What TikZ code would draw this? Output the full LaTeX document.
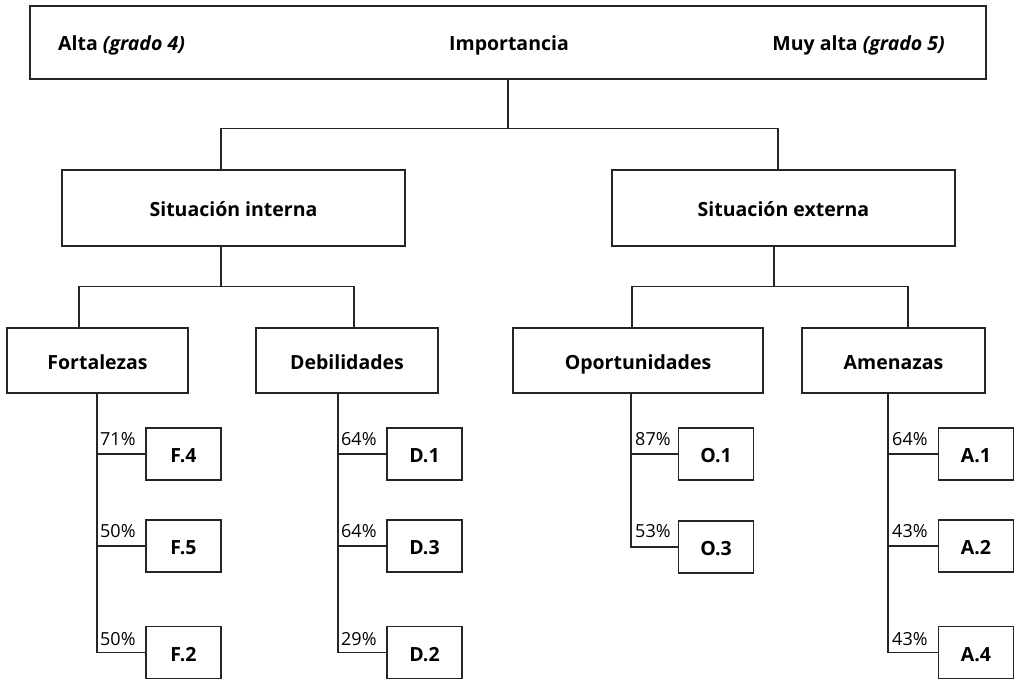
\documentclass[tikz,border=0pt]{standalone}
\usepackage{fontspec}
\setmainfont{Open Sans}
\begin{document}
\begin{tikzpicture}[x=1pt,y=-1pt,
  box/.style={draw=black!85, line width=1.3pt, font=\bfseries\fontsize{19.5}{21}\selectfont, inner sep=0pt, text height=19pt, text depth=2pt},
  leaf/.style={box, minimum width=75pt, minimum height=52pt},
  conn/.style={draw=black!85, line width=1.3pt},
  pct/.style={font=\fontsize{18}{20}\selectfont, anchor=base west, inner sep=0pt},
  toptxt/.style={font=\bfseries\fontsize{19.5}{21}\selectfont, inner sep=0pt}]
\useasboundingbox (0,0) rectangle (1018,680);
% top box
\node[box, minimum width=956pt, minimum height=73pt] (top) at (508,42.5) {};
\node[toptxt, anchor=base west] (alta) at (58,50) {Alta \textit{(grado 4)}};
\node[toptxt, anchor=base] (imp) at (509,50) {Importancia};
\node[toptxt, anchor=base east] (muy) at (945,50) {Muy alta \textit{(grado 5)}};
% level 1
\node[box, minimum width=343pt, minimum height=76pt] (sitint) at (233.5,208) {Situación interna};
\node[box, minimum width=343pt, minimum height=76pt] (sitext) at (783.5,208) {Situación externa};
% level 2
\node[box, minimum width=181pt, minimum height=65pt] (fort) at (97.5,360.5) {Fortalezas};
\node[box, minimum width=182pt, minimum height=65pt] (deb) at (347,360.5) {Debilidades};
\node[box, minimum width=250pt, minimum height=65pt] (opo) at (638,360.5) {Oportunidades};
\node[box, minimum width=183pt, minimum height=65pt] (ame) at (893.5,360.5) {Amenazas};
% leaves
\node[leaf] (F4) at (183.5,454) {F.4};
\node[leaf] (F5) at (183.5,546) {F.5};
\node[leaf] (F2) at (183.5,652.5) {F.2};
\node[leaf] (D1) at (424.5,454) {D.1};
\node[leaf] (D3) at (424.5,546) {D.3};
\node[leaf] (D2) at (424.5,652.5) {D.2};
\node[leaf] (O1) at (716,454) {O.1};
\node[leaf] (O3) at (716,547) {O.3};
\node[leaf] (A1) at (976,454) {A.1};
\node[leaf] (A2) at (976,546) {A.2};
\node[leaf] (A4) at (976,652.5) {A.4};
% helper x positions
\coordinate (ci) at (221,0);
\coordinate (ce) at (778,0);
\coordinate (ce2) at (774,0);
\coordinate (fc) at (79,0);
\coordinate (dc) at (354,0);
\coordinate (oc) at (632,0);
\coordinate (ac) at (908,0);
\coordinate (ft) at (97,0);
\coordinate (dt) at (338,0);
\coordinate (ot) at (631,0);
\coordinate (at) at (888,0);
% level 0 -> 1
\draw[conn] (top.south) -- ++(0,49) coordinate (b1);
\draw[conn] (sitint.north -| ci) |- (b1) -| (sitext.north -| ce);
% level 1 -> 2
\draw[conn] (sitint.south -| ci) -- ++(0,40) coordinate (m1);
\draw[conn] (fort.north -| fc) |- (m1) -| (deb.north -| dc);
\draw[conn] (sitext.south -| ce2) -- ++(0,40) coordinate (m2);
\draw[conn] (opo.north -| oc) |- (m2) -| (ame.north -| ac);
% trunks and branches
\draw[conn] (fort.south -| ft) |- (F2.west);
\draw[conn] (F4.west -| ft) -- (F4.west);
\draw[conn] (F5.west -| ft) -- (F5.west);
\draw[conn] (deb.south -| dt) |- (D2.west);
\draw[conn] (D1.west -| dt) -- (D1.west);
\draw[conn] (D3.west -| dt) -- (D3.west);
\draw[conn] (opo.south -| ot) |- (O3.west);
\draw[conn] (O1.west -| ot) -- (O1.west);
\draw[conn] (ame.south -| at) |- (A4.west);
\draw[conn] (A1.west -| at) -- (A1.west);
\draw[conn] (A2.west -| at) -- (A2.west);
% percentages
\node[pct] (pF4) at (100,445) {71\%};
\node[pct] (pF5) at (100,537) {50\%};
\node[pct] (pF2) at (100,645) {50\%};
\node[pct] (pD1) at (341,445) {64\%};
\node[pct] (pD3) at (341,537) {64\%};
\node[pct] (pD2) at (341,645) {29\%};
\node[pct] (pO1) at (635,445) {87\%};
\node[pct] (pO3) at (635,537) {53\%};
\node[pct] (pA1) at (892,445) {64\%};
\node[pct] (pA2) at (892,537) {43\%};
\node[pct] (pA4) at (892,645) {43\%};
\end{tikzpicture}
\end{document}
